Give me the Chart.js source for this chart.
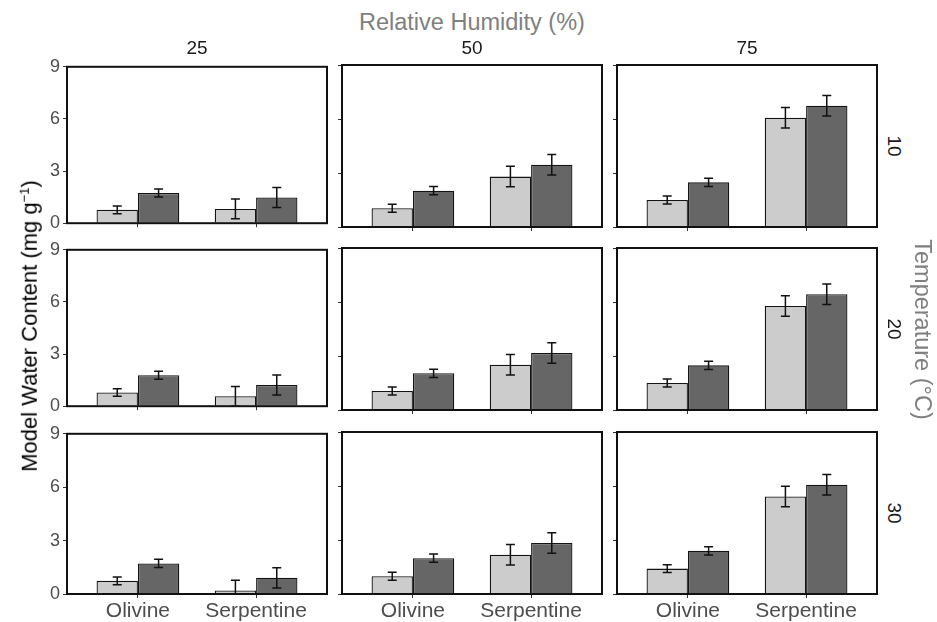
<!DOCTYPE html>
<html>
<head>
<meta charset="utf-8">
<script src="https://cdn.jsdelivr.net/npm/chart.js@4.4.1/dist/chart.umd.min.js"></script>
<style>
    body { margin: 0; background: #fff; font-family: "Liberation Sans", Arial, sans-serif; }
    #figure { position: relative; width: 937px; height: 622px; overflow: hidden; }
    .panel { position: absolute; }
    .label { position: absolute; white-space: nowrap; transform-origin: center center; }
    .title { font-size: 22px; }
    .grey { color: #7f7f7f; font-size: 23.5px; }
    .strip { font-size: 19px; color: #1a1a1a; }
    sup { font-size: 13px; line-height: 0; }
</style>
</head>
<body>
<div id="figure"></div>
<script>
const humidityLevels = [25, 50, 75];
const temperatures = [10, 20, 30];
const minerals = ['Olivine', 'Serpentine'];
const yTicks = [0, 3, 6, 9];

// rows = temperature, columns = humidity, each pair = [olivine, serpentine]
const lightValues = [
    [[0.77, 0.82], [1.04, 2.80], [1.50, 6.07]],
    [[0.79, 0.57], [1.06, 2.52], [1.50, 5.78]],
    [[0.74, 0.20], [0.99, 2.18], [1.41, 5.42]],
];
const darkValues = [
    [[1.74, 1.48], [2.02, 3.46], [2.48, 6.74]],
    [[1.78, 1.22], [2.04, 3.17], [2.48, 6.43]],
    [[1.72, 0.91], [1.99, 2.83], [2.40, 6.07]],
];
const lightErrors = [
    [[0.22, 0.57], [0.22, 0.57], [0.22, 0.57]],
    [[0.22, 0.57], [0.22, 0.57], [0.22, 0.57]],
    [[0.22, 0.57], [0.22, 0.57], [0.22, 0.57]],
];
const darkErrors = [
    [[0.23, 0.57], [0.23, 0.57], [0.23, 0.57]],
    [[0.23, 0.57], [0.23, 0.57], [0.23, 0.57]],
    [[0.23, 0.57], [0.23, 0.57], [0.23, 0.57]],
];

const PANEL_W = 260;
const PANEL_H = 162;
const panelLefts = [67, 342, 617];
const panelTops = [65, 248, 432];
const PAD_TOP = 12;
const PAD_RIGHT = 4;

const errorBars = {
    id: 'errorBars',
    afterDatasetsDraw(chart) {
        const { ctx, chartArea, scales } = chart;
        ctx.save();
        ctx.beginPath();
        ctx.rect(chartArea.left, chartArea.top, chartArea.right - chartArea.left, chartArea.bottom - chartArea.top);
        ctx.clip();
        ctx.strokeStyle = '#111';
        ctx.lineWidth = 1.5;
        chart.data.datasets.forEach((ds, i) => {
            chart.getDatasetMeta(i).data.forEach((bar, j) => {
                const v = ds.data[j].y;
                const e = ds.errors[j];
                const top = scales.y.getPixelForValue(v + e);
                const bottom = scales.y.getPixelForValue(v - e);
                const half = 4.5;
                ctx.beginPath();
                ctx.moveTo(bar.x, top);
                ctx.lineTo(bar.x, bottom);
                ctx.moveTo(bar.x - half, top);
                ctx.lineTo(bar.x + half, top);
                ctx.moveTo(bar.x - half, bottom);
                ctx.lineTo(bar.x + half, bottom);
                ctx.stroke();
            });
        });
        ctx.restore();
    }
};

const panelBox = {
    id: 'panelBox',
    afterDraw(chart) {
        const { ctx, chartArea } = chart;
        ctx.save();
        ctx.strokeStyle = '#111';
        ctx.lineWidth = 2;
        ctx.strokeRect(chartArea.left, chartArea.top, chartArea.right - chartArea.left, chartArea.bottom - chartArea.top);
        ctx.restore();
    }
};

function makePanel(row, col) {
    const fig = document.getElementById('figure');
    const padLeft = col === 0 ? 34 : 8;
    const padBottom = row === 2 ? 30 : 10;

    const box = document.createElement('div');
    box.className = 'panel';
    box.style.left = (panelLefts[col] - padLeft) + 'px';
    box.style.top = (panelTops[row] - PAD_TOP) + 'px';
    box.style.width = (PANEL_W + padLeft + PAD_RIGHT) + 'px';
    box.style.height = (PANEL_H + PAD_TOP + padBottom) + 'px';
    const canvas = document.createElement('canvas');
    box.appendChild(canvas);
    fig.appendChild(box);

    const series = (values, errors, fill) => ({
        data: minerals.map((m, k) => ({ x: k + 1, y: values[row][col][k] })),
        errors: errors[row][col],
        backgroundColor: fill,
        borderColor: '#141414',
        borderWidth: 1.3,
        borderSkipped: 'start',
        categoryPercentage: 0.7,
        barPercentage: 1,
    });

    const tickGrid = { display: true, drawOnChartArea: false, drawTicks: true, tickLength: 4, color: '#333', offset: false };

    new Chart(canvas, {
        type: 'bar',
        data: {
            datasets: [
                series(lightValues, lightErrors, '#cccccc'),
                series(darkValues, darkErrors, '#666666'),
            ]
        },
        options: {
            responsive: true,
            maintainAspectRatio: false,
            animation: false,
            events: [],
            layout: { padding: { top: PAD_TOP, right: PAD_RIGHT, left: 0, bottom: 0 } },
            plugins: { legend: { display: false }, tooltip: { enabled: false } },
            scales: {
                x: {
                    type: 'linear',
                    min: 0.4,
                    max: 2.6,
                    offset: false,
                    grid: tickGrid,
                    border: { display: false },
                    afterBuildTicks: s => { s.ticks = minerals.map((m, k) => ({ value: k + 1 })); },
                    afterFit: s => { s.height = padBottom; },
                    ticks: {
                        display: row === 2,
                        autoSkip: false,
                        maxRotation: 0,
                        padding: 1,
                        color: '#4d4d4d',
                        font: { family: 'Liberation Sans', size: 21 },
                        callback: v => minerals[v - 1],
                    }
                },
                y: {
                    min: 0,
                    max: 9,
                    grid: tickGrid,
                    border: { display: false },
                    afterBuildTicks: s => { s.ticks = yTicks.map(v => ({ value: v })); },
                    afterFit: s => { s.width = padLeft; },
                    ticks: {
                        display: col === 0,
                        padding: 3,
                        color: '#4d4d4d',
                        font: { family: 'Liberation Sans', size: 18 },
                    }
                }
            }
        },
        plugins: [errorBars, panelBox]
    });
}

function addLabel(html, cls, cx, cy, rotate) {
    const el = document.createElement('div');
    el.className = 'label ' + cls;
    el.innerHTML = html;
    document.getElementById('figure').appendChild(el);
    const w = el.offsetWidth, h = el.offsetHeight;
    el.style.left = (cx - w / 2) + 'px';
    el.style.top = (cy - h / 2) + 'px';
    if (rotate) el.style.transform = `rotate(${rotate}deg)`;
}

for (let r = 0; r < temperatures.length; r++) {
    for (let c = 0; c < humidityLevels.length; c++) {
        makePanel(r, c);
    }
}

const midX = (panelLefts[0] + panelLefts[2] + PANEL_W) / 2;
const midY = (panelTops[0] + panelTops[2] + PANEL_H) / 2;

addLabel('Relative Humidity (%)', 'title grey', midX, 22);
humidityLevels.forEach((h, c) => addLabel(String(h), 'strip', panelLefts[c] + PANEL_W / 2, 48));
temperatures.forEach((t, r) => addLabel(String(t), 'strip', 893, panelTops[r] + PANEL_H / 2, 90));
addLabel('Temperature (°C)', 'title grey', 922, midY, 90);
addLabel('Model Water Content (mg g<sup>&minus;1</sup>)', 'title', 30, midY - 4, -90);
</script>
</body>
</html>
